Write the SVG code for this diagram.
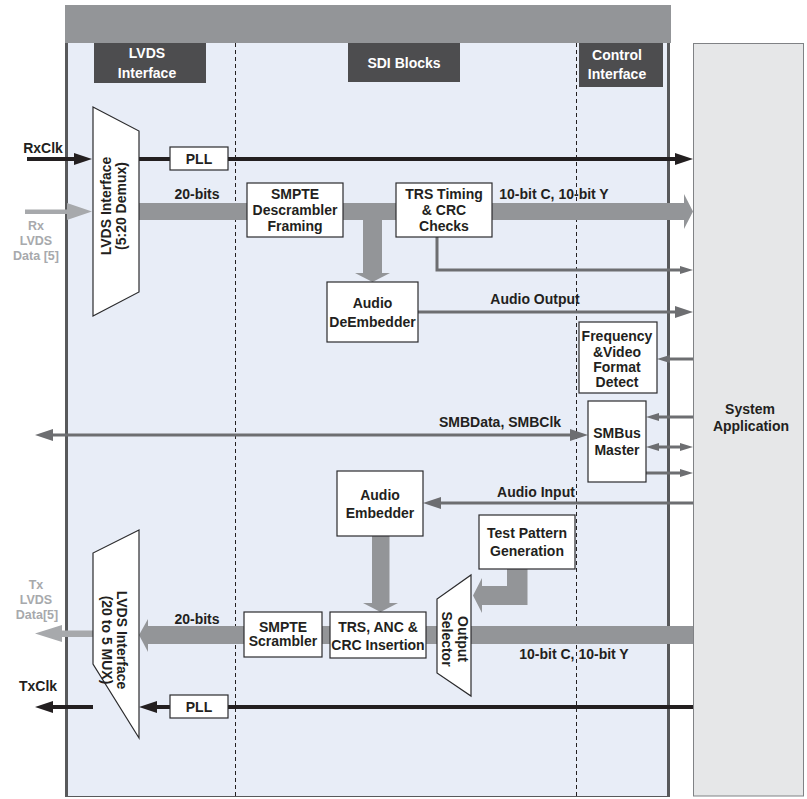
<svg xmlns="http://www.w3.org/2000/svg" width="807" height="799" viewBox="0 0 807 799">
<defs>
<style>
.t{font-family:"Liberation Sans",Arial,sans-serif;font-weight:bold;font-size:14px;fill:#231F20;text-anchor:middle}
.w{fill:#FFFFFF}
.g{fill:#A7A9AC;font-size:12.5px}
.box{fill:#FFFFFF;stroke:#2B2B2D;stroke-width:1.2}
.hdr{fill:#4D4D4F}
.bus{fill:#939598}
.lt{fill:#A7A9AC}
.thin{stroke:#6D6E71;stroke-width:3;fill:none}
.clk{stroke:#231F20;stroke-width:4;fill:none}
.dash{stroke:#231F20;stroke-width:1;stroke-dasharray:4 3;fill:none}
</style>
<marker id="ahL" viewBox="0 0 18 12" markerWidth="18" markerHeight="12" refX="10" refY="6" orient="auto-start-reverse" markerUnits="userSpaceOnUse"><path d="M0,0L18,6L0,12z" fill="#6D6E71"/></marker>
<marker id="ahS" viewBox="0 0 13 8" markerWidth="13" markerHeight="8" refX="5" refY="4" orient="auto-start-reverse" markerUnits="userSpaceOnUse"><path d="M0,0L13,4L0,8z" fill="#6D6E71"/></marker>
<marker id="ahK" viewBox="0 0 18 12" markerWidth="18" markerHeight="12" refX="10" refY="6" orient="auto-start-reverse" markerUnits="userSpaceOnUse"><path d="M0,0L18,6L0,12z" fill="#231F20"/></marker>
</defs>
<rect width="807" height="799" fill="#FFFFFF"/>
<!-- background panel -->
<g id="panel">
<rect x="65" y="5" width="606" height="38" fill="#939598"/>
<rect x="65" y="43" width="605" height="754" fill="#E8EDF7"/>
<line x1="66.5" y1="43" x2="66.5" y2="797" stroke="#58595B" stroke-width="3"/>
<line x1="668.5" y1="43" x2="668.5" y2="797" stroke="#58595B" stroke-width="3"/>
<line x1="65" y1="796.5" x2="670" y2="796.5" stroke="#58595B" stroke-width="1"/>
<line class="dash" x1="235.5" y1="43" x2="235.5" y2="797"/>
<line class="dash" x1="576.5" y1="43" x2="576.5" y2="797"/>
</g>
<g id="headers">
<g id="hdr-lvds"><rect class="hdr" x="94" y="43" width="112" height="40"/><text class="t w" x="147" y="58">LVDS</text><text class="t w" x="147" y="78">Interface</text></g>
<g id="hdr-sdi"><rect class="hdr" x="348" y="43" width="112" height="39"/><text class="t w" x="404" y="68">SDI Blocks</text></g>
<g id="hdr-ctrl"><rect class="hdr" x="579" y="43" width="84" height="44"/><text class="t w" x="617" y="60">Control</text><text class="t w" x="617" y="79">Interface</text></g>
</g>
<g id="connectors">
<!-- Rx side -->
<path class="clk" d="M27,159H84" marker-end="url(#ahK)"/>
<path class="clk" d="M139,159H685" marker-end="url(#ahK)"/>
<rect class="lt" x="25" y="209.5" width="43" height="4.5"/>
<polygon class="lt" points="67,203 92,211.5 67,220"/>
<rect class="bus" x="139" y="203" width="546" height="17"/>
<polygon class="bus" points="684,194 693,211.5 684,229"/>
<rect class="bus" x="363" y="218" width="19" height="56"/>
<polygon class="bus" points="355,273 390,273 372.5,282"/>
<path class="thin" d="M437,237V270H685" marker-end="url(#ahS)"/>
<path class="thin" d="M418,312H685" marker-end="url(#ahL)"/>
<!-- control -->
<path class="thin" d="M693,359H665" marker-end="url(#ahS)"/>
<path class="thin" d="M693,417H654" marker-end="url(#ahS)"/>
<path class="thin" d="M654,447H685" marker-start="url(#ahS)" marker-end="url(#ahS)"/>
<path class="thin" d="M646,473H685" marker-end="url(#ahS)"/>
<path class="thin" d="M43,435H580" marker-start="url(#ahL)" marker-end="url(#ahL)"/>
<path class="thin" d="M693,503H431" marker-end="url(#ahL)"/>
<!-- Tx side -->
<rect class="bus" x="372" y="534" width="17.5" height="70"/>
<polygon class="bus" points="363,603 398,603 380.5,612"/>
<polygon class="bus" points="507,568 527.5,568 527.5,605 482,605 482,613 473,595.5 482,578 482,586 507,586"/>
<rect class="bus" x="147" y="626" width="546" height="18"/>
<polygon class="bus" points="148,619 139,635 148,652"/>
<rect class="lt" x="58" y="630.5" width="36" height="6.5"/>
<polygon class="lt" points="62,625 35,633.5 62,642"/>
<path class="clk" d="M693,707H147" marker-end="url(#ahK)"/>
<path class="clk" d="M93,707H43" marker-end="url(#ahK)"/>
<!-- labels -->
<text class="t" x="43" y="153">RxClk</text>
<text class="t g" x="36" y="230">Rx</text>
<text class="t g" x="36" y="245">LVDS</text>
<text class="t g" x="36" y="260">Data [5]</text>
<text class="t" x="197" y="199">20-bits</text>
<text class="t" x="554" y="199">10-bit C, 10-bit Y</text>
<text class="t" x="535" y="304">Audio Output</text>
<text class="t" x="500" y="427">SMBData, SMBClk</text>
<text class="t" x="536" y="497">Audio Input</text>
<text class="t g" x="36" y="589">Tx</text>
<text class="t g" x="36" y="604">LVDS</text>
<text class="t g" x="37" y="619">Data[5]</text>
<text class="t" x="197" y="624">20-bits</text>
<text class="t" x="574" y="659">10-bit C, 10-bit Y</text>
<text class="t" x="38" y="691">TxClk</text>
</g>
<g id="rx-lvds"><polygon class="box" points="93,107 139,131 139,292 93,316"/>
<g transform="translate(116,206) rotate(-90)"><text class="t" x="0" y="-5">LVDS Interface</text><text class="t" x="0" y="10">(5:20 Demux)</text></g></g>
<g id="pll-rx"><rect class="box" x="170" y="147" width="58" height="23"/><text class="t" x="199" y="164">PLL</text></g>
<g id="smpte-descrambler"><rect class="box" x="247" y="183" width="96" height="54"/><text class="t" x="295" y="199">SMPTE</text><text class="t" x="295" y="215">Descrambler</text><text class="t" x="295" y="231">Framing</text></g>
<g id="trs-timing"><rect class="box" x="396" y="183" width="96" height="54"/><text class="t" x="444" y="199">TRS Timing</text><text class="t" x="444" y="215">&amp; CRC</text><text class="t" x="444" y="231">Checks</text></g>
<g id="audio-deembedder"><rect class="box" x="327" y="282" width="91" height="60"/><text class="t" x="372.5" y="308">Audio</text><text class="t" x="372.5" y="327">DeEmbedder</text></g>
<g id="freq-detect"><rect class="box" x="579" y="322" width="78" height="71"/><text class="t" x="617" y="341">Frequency</text><text class="t" x="617" y="357">&amp;Video</text><text class="t" x="617" y="372">Format</text><text class="t" x="617" y="387">Detect</text></g>
<g id="smbus-master"><rect class="box" x="588" y="401" width="58" height="81"/><text class="t" x="617" y="438">SMBus</text><text class="t" x="617" y="454.5">Master</text></g>
<g id="audio-embedder"><rect class="box" x="337" y="471" width="86" height="65"/><text class="t" x="380" y="500">Audio</text><text class="t" x="380" y="518">Embedder</text></g>
<g id="test-pattern"><rect class="box" x="479" y="515" width="96" height="54"/><text class="t" x="527" y="538">Test Pattern</text><text class="t" x="527" y="556">Generation</text></g>
<g id="output-selector"><polygon class="box" points="471,575 471,696 437,673 437,599"/>
<g transform="translate(455,639) rotate(90)"><text class="t" x="0" y="-3">Output</text><text class="t" x="0" y="13">Selector</text></g></g>
<g id="trs-anc"><rect class="box" x="330" y="612" width="96" height="46"/><text class="t" x="378" y="632">TRS, ANC &amp;</text><text class="t" x="378" y="649.5">CRC Insertion</text></g>
<g id="smpte-scrambler"><rect class="box" x="244" y="612" width="78" height="45"/><text class="t" x="283" y="631.5">SMPTE</text><text class="t" x="283" y="646">Scrambler</text></g>
<g id="tx-lvds"><polygon class="box" points="139,530 93,553 93,664 139,738"/>
<g transform="translate(116,640) rotate(90)"><text class="t" x="0" y="-1">LVDS Interface</text><text class="t" x="0" y="14">(20 to 5 MUX)</text></g></g>
<g id="pll-tx"><rect class="box" x="170" y="695" width="58" height="23"/><text class="t" x="199" y="712">PLL</text></g>
<g id="system-application"><rect x="693.5" y="43.5" width="110" height="752.5" fill="#E6E7E8" stroke="#808285" stroke-width="1"/><text class="t" x="750" y="414">System</text><text class="t" x="751" y="431">Application</text></g>
</svg>
